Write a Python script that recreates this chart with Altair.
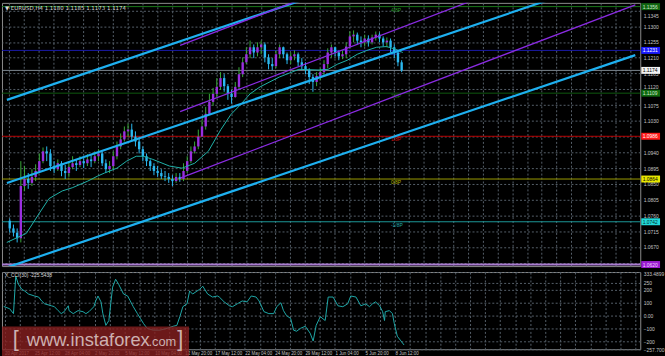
import altair as alt
import pandas as pd

# ---------------- values ----------------
# EURUSD H4 candles (each entry = two H4 bars); open of a candle = previous close
first_open = 1.0745
close = [1.0723, 1.0711, 1.0695, 1.0844, 1.0864, 1.0853, 1.0870, 1.0887, 1.0915, 1.0943,
         1.0937, 1.0901, 1.0892, 1.0909, 1.0887, 1.0881, 1.0898, 1.0909, 1.0904, 1.0915,
         1.0909, 1.0920, 1.0915, 1.0929, 1.0937, 1.0909, 1.0892, 1.0901, 1.0929, 1.0957,
         1.0977, 1.1000, 1.1005, 1.0985, 1.0971, 1.0949, 1.0929, 1.0915, 1.0901, 1.0887,
         1.0881, 1.0872, 1.0870, 1.0864, 1.0858, 1.0870, 1.0864, 1.0887, 1.0915, 1.0943,
         1.0957, 1.0985, 1.1014, 1.1050, 1.1084, 1.1107, 1.1127, 1.1152, 1.1129, 1.1107,
         1.1098, 1.1127, 1.1163, 1.1197, 1.1220, 1.1240, 1.1225, 1.1240, 1.1248, 1.1211,
         1.1192, 1.1186, 1.1220, 1.1240, 1.1220, 1.1203, 1.1214, 1.1220, 1.1197, 1.1186,
         1.1175, 1.1155, 1.1141, 1.1158, 1.1169, 1.1192, 1.1225, 1.1240, 1.1225, 1.1214,
         1.1220, 1.1242, 1.1271, 1.1276, 1.1259, 1.1254, 1.1265, 1.1254, 1.1268, 1.1276,
         1.1265, 1.1254, 1.1259, 1.1240, 1.1225, 1.1197, 1.1174]
high = [1.0751, 1.0734, 1.0723, 1.0915, 1.0901, 1.0881, 1.0892, 1.0906, 1.0937, 1.0954,
        1.0957, 1.0949, 1.0915, 1.0920, 1.0915, 1.0904, 1.0915, 1.0929, 1.0920, 1.0929,
        1.0923, 1.0935, 1.0932, 1.0943, 1.0949, 1.0943, 1.0920, 1.0915, 1.0943, 1.0971,
        1.0994, 1.1014, 1.1022, 1.1022, 1.1000, 1.0985, 1.0957, 1.0937, 1.0920, 1.0909,
        1.0901, 1.0892, 1.0887, 1.0881, 1.0875, 1.0881, 1.0881, 1.0909, 1.0929, 1.0957,
        1.0971, 1.1005, 1.1033, 1.1070, 1.1107, 1.1124, 1.1152, 1.1169, 1.1163, 1.1135,
        1.1118, 1.1141, 1.1183, 1.1211, 1.1240, 1.1259, 1.1248, 1.1254, 1.1259, 1.1254,
        1.1220, 1.1209, 1.1231, 1.1248, 1.1242, 1.1225, 1.1225, 1.1231, 1.1225, 1.1209,
        1.1197, 1.1180, 1.1163, 1.1169, 1.1180, 1.1203, 1.1237, 1.1248, 1.1242, 1.1231,
        1.1231, 1.1254, 1.1285, 1.1288, 1.1282, 1.1271, 1.1276, 1.1274, 1.1276, 1.1285,
        1.1282, 1.1271, 1.1268, 1.1265, 1.1248, 1.1231, 1.1203]
low = [1.0711, 1.0700, 1.0683, 1.0683, 1.0830, 1.0836, 1.0844, 1.0858, 1.0881, 1.0909,
       1.0915, 1.0887, 1.0881, 1.0887, 1.0872, 1.0864, 1.0870, 1.0892, 1.0887, 1.0898,
       1.0895, 1.0901, 1.0898, 1.0909, 1.0915, 1.0901, 1.0881, 1.0881, 1.0892, 1.0920,
       1.0949, 1.0971, 1.0983, 1.0971, 1.0957, 1.0937, 1.0915, 1.0901, 1.0887, 1.0875,
       1.0870, 1.0864, 1.0858, 1.0853, 1.0844, 1.0853, 1.0856, 1.0858, 1.0881, 1.0909,
       1.0937, 1.0949, 1.0985, 1.1005, 1.1050, 1.1073, 1.1098, 1.1118, 1.1113, 1.1090,
       1.1079, 1.1096, 1.1118, 1.1155, 1.1192, 1.1209, 1.1209, 1.1214, 1.1220, 1.1197,
       1.1177, 1.1175, 1.1180, 1.1209, 1.1209, 1.1192, 1.1192, 1.1203, 1.1186, 1.1175,
       1.1163, 1.1135, 1.1113, 1.1129, 1.1146, 1.1158, 1.1180, 1.1211, 1.1214, 1.1203,
       1.1206, 1.1209, 1.1237, 1.1254, 1.1248, 1.1240, 1.1242, 1.1242, 1.1248, 1.1259,
       1.1254, 1.1242, 1.1240, 1.1225, 1.1209, 1.1186, 1.1169]

# moving average (bar position, value)
ma_j = [-0.8, 4.5, 7.9, 10.6, 14.2, 16.9, 21.1, 23.7, 25.6, 29.0, 31.6, 34.2, 36.1, 38.7,
        43.2, 46.6, 50.0, 53.7, 57.1, 59.8, 62.4, 65.0, 67.7, 72.9, 78.2, 83.4, 86.1, 88.7,
        91.3, 94.0, 96.6, 99.2, 101.9, 104.5, 106.3]
ma_v = [1.0683, 1.0709, 1.0765, 1.0808, 1.0830, 1.0839, 1.0858, 1.0872, 1.0881, 1.0895,
        1.0915, 1.0929, 1.0929, 1.0920, 1.0901, 1.0895, 1.0909, 1.0943, 1.1005, 1.1048,
        1.1076, 1.1107, 1.1127, 1.1155, 1.1177, 1.1175, 1.1177, 1.1192, 1.1203, 1.1220,
        1.1231, 1.1240, 1.1242, 1.1234, 1.1225]

# CCI(30)
cci_j = [-0.3, 1.3, 2.3, 2.9, 3.6, 4.5, 5.3, 6.3, 7.9, 9.0, 9.8, 10.6, 12.4, 13.2, 14.2, 15.0,
         15.8, 16.9, 17.1, 18.2, 19.5, 20.8, 21.6, 22.4, 23.7, 24.2, 24.8, 25.6, 26.1, 26.9,
         27.7, 28.7, 29.5, 30.3, 31.6, 32.7, 33.4, 34.2, 35.3, 36.1, 36.9, 37.9, 39.5, 41.3,
         43.2, 44.8, 45.8, 46.6, 47.4, 48.5, 49.2, 50.0, 51.9, 52.7, 54.0, 55.3, 56.6, 57.1,
         58.4, 59.8, 60.6, 61.9, 63.2, 64.5, 65.6, 66.9, 67.7, 69.0, 70.3, 71.6, 72.4, 73.5,
         74.2, 75.0, 76.1, 76.9, 77.7, 78.7, 80.0, 81.3, 82.1, 82.9, 84.0, 85.3, 86.1, 87.4,
         88.7, 90.0, 91.3, 92.1, 93.5, 94.8, 96.1, 97.1, 97.9, 98.7, 99.8, 100.6, 101.1, 101.3,
         102.4, 103.2, 103.7, 104.5, 105.3, 106.3]
cci_v = [70, 52, 15, 302, 240, 202, 188, 165, 150, 142, 112, 90, 75, 68, 38, 15,
         30, 75, 38, 15, 38, 30, 15, 30, 68, 112, 150, 105, 15, -75,
         -38, 218, 278, 240, 165, 150, 112, 68, 15, -22, -60, -98, -112, -112,
         -98, -82, -75, -8, 68, 90, 188, 165, 202, 225, 165, 142, 150, 142,
         105, 75, 68, 90, 112, 105, 150, 142, 112, 30, 15, 15, 68, 98,
         38, 0, -22, -112, -120, -98, -82, -135, -195, -75, -8, -38, 142, 142,
         75, 68, 90, 150, 142, 75, 90, 68, 90, 105, 75, 30, -38, 30,
         38, 15, -60, -158, -188, -225]

# Murray levels and current price
murray_levels = [1.0620, 1.0742, 1.0864, 1.0986, 1.1109, 1.1231, 1.1356]
murray_names = ["-2/8P", "-1/8P", "0/8P", "1/8P", "2/8P", "3/8P", "4/8P"]
current_price = 1.1174

# regression channels: endpoints (bar position, price)
cyan_j = [-0.763, 169.2]
cyan_top = [1.10899, 1.16957]
cyan_mid = [1.08527, 1.14585]
cyan_low = [1.06118, 1.12176]
purple_j = [46.08, 169.2]
purple_top = [1.12453, 1.17395]
purple_mid = [1.10561, 1.15503]
purple_low = [1.08668, 1.13611]

price_ticks = [1.0625, 1.0670, 1.0715, 1.0760, 1.0805, 1.0850, 1.0895, 1.0940, 1.0985,
               1.1030, 1.1075, 1.1120, 1.1165, 1.1210, 1.1255, 1.1300, 1.1345]
cci_ticks = [333.4899, 250, 200, 100, 0, -100, -200, -257.7]
time_labels = ["20 Apr 2017", "25 Apr 12:00", "28 Apr 04:00", "2 May 20:00", "5 May 12:00",
               "10 May 04:00", "12 May 20:00", "17 May 12:00", "22 May 04:00", "24 May 20:00",
               "29 May 12:00", "1 Jun 04:00", "5 Jun 20:00", "8 Jun 12:00"]
title_text = "\u25bc EURUSD,H4  1.1180 1.1185 1.1173 1.1174"
cci_title = "X_CCI(30) -225.5438"

# ---------------- styles ----------------
W, H1, H2 = 645, 266, 78
FONT = "Liberation Sans"
GRID = "#56606a"
LBL = "#c4c4c4"
BULL_BODY = "#9a2fe0"
BULL_WICK = "#3aa83a"
BEAR = "#2bb8f0"
LEVEL_COLORS = ["#a97bd0", "#1c9a9a", "#9c9c00", "#b80000", "#0f5a0f", "#1a1aa8", "#1a7a1a"]
LABEL_COLORS = ["#b088d8", "#22a8a8", "#b4b400", "#d01010", "#1f7f1f", "#3030c0", "#2a9a2a"]
BOX_FILL = ["#9a1ad0", "#22d8d8", "#e8e800", "#ff1a1a", "#0f6a0f", "#1a1aff", "#116611"]
BOX_TEXT = ["#f0d8ff", "#003030", "#000000", "#ffffff", "#cfe8cf", "#ffffff", "#cfe8cf"]
PRICE_LINE = "#7d8891"

X_DOM = [-0.763, 169.2]
Y_DOM = [1.06155, 1.13667]
C_DOM = [-257.7, 333.4899]
xs = alt.Scale(domain=X_DOM, nice=False, zero=False)
ys = alt.Scale(domain=Y_DOM, nice=False, zero=False)
cs = alt.Scale(domain=C_DOM, nice=False, zero=False)
grid_vals = [round(-0.1 + 4 * m, 1) for m in range(43)]

x_top_axis = alt.Axis(values=grid_vals, labels=False, ticks=False, domain=False, grid=True,
                      gridColor=GRID, gridDash=[2, 2], gridWidth=1, title=None, minExtent=0)
y_top_axis = alt.Axis(orient="right", values=price_ticks, format=".4f", labelFontSize=5,
                      labelFont=FONT, labelColor=LBL, labelPadding=3, ticks=False, domain=False,
                      labelBaseline={"condition": [
                          {"test": "datum.value > 1.134", "value": "top"},
                          {"test": "abs(datum.value - 1.112) < 0.0002", "value": "bottom"}],
                          "value": "middle"},
                      labelOffset={"condition": {"test": "datum.value > 1.134", "value": 3},
                                   "value": 0},
                      grid=True, gridColor=GRID, gridDash=[2, 2], labelOverlap=False,
                      title=None, minExtent=0)
lab_js = "[" + ",".join("'" + t + "'" for t in time_labels) + "]"
idx = "round((datum.value + 0.1) / 8)"
x_bot_axis = alt.Axis(values=grid_vals,
                      labelExpr=f"(round((datum.value + 0.1) / 4) % 2 == 0 && {idx} < {len(time_labels)}) ? {lab_js}[{idx}] : ''",
                      labelAlign="left", labelBaseline="top", labelPadding=1, labelFontSize=4.5,
                      labelFont=FONT, labelColor=LBL, labelFlush=False, labelOverlap=False,
                      ticks=False, domain=False, grid=True, gridColor=GRID, gridDash=[2, 2],
                      title=None, minExtent=0)
y_bot_axis = alt.Axis(orient="right", values=cci_ticks,
                      labelExpr="datum.value == 0 ? '0.00' : (datum.value > 300 ? format(datum.value, '.4f') : (datum.value < -250 ? format(datum.value, '.3f') : format(datum.value, 'd')))",
                      labelBaseline={"condition": {"test": "datum.value > 300", "value": "top"},
                                     "value": "middle"},
                      labelFontSize=5, labelFont=FONT, labelColor=LBL, labelPadding=3,
                      ticks=False, domain=False, grid=True, gridColor=GRID, gridDash=[2, 2],
                      labelOverlap=False, title=None, minExtent=0)


def XT(field="j"):
    return alt.X(f"{field}:Q", scale=xs, axis=x_top_axis)


def YT(field):
    return alt.Y(f"{field}:Q", scale=ys, axis=y_top_axis)


# ---------------- data tables ----------------
opens = [first_open] + close[:-1]
df_c = pd.DataFrame({
    "j": list(range(len(close))),
    "open": opens,
    "close": close,
    "high": [max(h, o, c) for h, o, c in zip(high, opens, close)],
    "low": [min(l, o, c) for l, o, c in zip(low, opens, close)],
})
df_ma = pd.DataFrame({"j": ma_j, "v": ma_v})
df_cci = pd.DataFrame({"j": cci_j[:len(cci_v)], "v": cci_v[:len(cci_j)]})

df_lv = pd.DataFrame({"level": murray_levels + [current_price],
                      "col": LEVEL_COLORS + [PRICE_LINE]})
df_ml = pd.DataFrame({"level": murray_levels[1:], "name": murray_names[1:],
                      "col": LABEL_COLORS[1:]})
df_box = pd.DataFrame({
    "level": murray_levels + [current_price],
    "lab": [f"{v:.4f}" for v in murray_levels + [current_price]],
    "fill": BOX_FILL + ["#f2f2f2"],
    "tcol": BOX_TEXT + ["#000000"],
})
df_cy = pd.DataFrame({"j": cyan_j * 3, "v": cyan_top + cyan_mid + cyan_low,
                      "id": ["t", "t", "m", "m", "l", "l"]})
df_pu = pd.DataFrame({"j": purple_j * 3, "v": purple_top + purple_mid + purple_low,
                      "id": ["t", "t", "m", "m", "l", "l"]})

# ---------------- main price panel ----------------
rules_thin = alt.Chart(df_lv).transform_filter("datum.level > 1.07").mark_rule(strokeWidth=1).encode(
    y=YT("level"), color=alt.Color("col:N", scale=None))
rules_thick = alt.Chart(df_lv).transform_filter("datum.level < 1.07").mark_rule(strokeWidth=2).encode(
    y=YT("level"), color=alt.Color("col:N", scale=None))
mlabels = alt.Chart(df_ml).mark_text(align="left", baseline="top", dy=1, fontSize=5, font=FONT).encode(
    x=alt.value(393), y=YT("level"), text="name:N", color=alt.Color("col:N", scale=None))

wick = alt.Chart(df_c).mark_rule(strokeWidth=1).encode(
    x=XT(), y=YT("low"), y2="high:Q",
    color=alt.condition("datum.close >= datum.open", alt.value(BULL_WICK), alt.value(BEAR)))
body = alt.Chart(df_c).mark_bar(size=2.4).encode(
    x=XT(), y=YT("open"), y2="close:Q",
    color=alt.condition("datum.close >= datum.open", alt.value(BULL_BODY), alt.value(BEAR)))
ma = alt.Chart(df_ma).mark_line(color="#20b2aa", strokeWidth=1, clip=True).encode(
    x=XT(), y=YT("v"))
cyan_lines = alt.Chart(df_cy).mark_line(color="#1eb0f0", strokeWidth=2.2, clip=True).encode(
    x=XT(), y=YT("v"), detail="id:N")
purple_lines = alt.Chart(df_pu).mark_line(color="#8a2be2", strokeWidth=1.3, clip=True).encode(
    x=XT(), y=YT("v"), detail="id:N")
boxes = alt.Chart(df_box).mark_rect(yOffset=-3.5, y2Offset=3.5).encode(
    x=alt.value(W + 1), x2=alt.value(W + 20), y=YT("level"), y2="level:Q",
    color=alt.Color("fill:N", scale=None))
box_text = alt.Chart(df_box).mark_text(align="left", baseline="middle", fontSize=5, font=FONT).encode(
    x=alt.value(W + 2.5), y=YT("level"), text="lab:N", color=alt.Color("tcol:N", scale=None))
title = alt.Chart(pd.DataFrame({"t": [title_text]})).mark_text(
    align="left", baseline="middle", fontSize=5.5, font="DejaVu Sans", color="#d8d8d8").encode(
    x=alt.value(3), y=alt.value(5.5), text="t:N")

top = alt.layer(rules_thin, rules_thick, mlabels, wick, body, ma, cyan_lines, purple_lines,
                boxes, box_text, title).properties(width=W, height=H1)

# ---------------- CCI panel ----------------
cci_line = alt.Chart(df_cci).mark_line(color="#1fa8a8", strokeWidth=1, clip=True).encode(
    x=alt.X("j:Q", scale=xs, axis=x_bot_axis), y=alt.Y("v:Q", scale=cs, axis=y_bot_axis))
cci_t = alt.Chart(pd.DataFrame({"t": [cci_title]})).mark_text(
    align="left", baseline="middle", fontSize=5, font=FONT, color="#d8d8d8").encode(
    x=alt.value(3), y=alt.value(3.5), text="t:N")
wm_rect = alt.Chart(pd.DataFrame({"a": [0]})).mark_rect(color="#8a2020", opacity=0.78).encode(
    x=alt.value(0), x2=alt.value(189), y=alt.value(55), y2=alt.value(87))
WMC = "#cdb0b0"
wm1 = alt.Chart(pd.DataFrame({"t": ["["]})).mark_text(align="left", baseline="alphabetic", fontSize=22, font=FONT, color=WMC).encode(
    x=alt.value(11), y=alt.value(75), text="t:N")
wm2 = alt.Chart(pd.DataFrame({"t": ["www.instaforex"]})).mark_text(align="left", baseline="alphabetic", fontSize=18.5, font=FONT, color=WMC).encode(
    x=alt.value(25), y=alt.value(75), text="t:N")
wm3 = alt.Chart(pd.DataFrame({"t": [".com"]})).mark_text(align="left", baseline="alphabetic", fontSize=13, font=FONT, color=WMC).encode(
    x=alt.value(148), y=alt.value(75), text="t:N")
wm4 = alt.Chart(pd.DataFrame({"t": ["]"]})).mark_text(align="left", baseline="alphabetic", fontSize=22, font=FONT, color=WMC).encode(
    x=alt.value(177), y=alt.value(75), text="t:N")

bottom = alt.layer(cci_line, cci_t, wm_rect, wm1, wm2, wm3, wm4).properties(width=W, height=H2)

chart = alt.vconcat(top, bottom, spacing=2).properties(
    padding=0, background="#000000"
).configure_view(stroke="#8c8c8c", strokeWidth=1, fill="#000000")

chart.save("out.html", embed_options={"renderer": "svg", "actions": False})
